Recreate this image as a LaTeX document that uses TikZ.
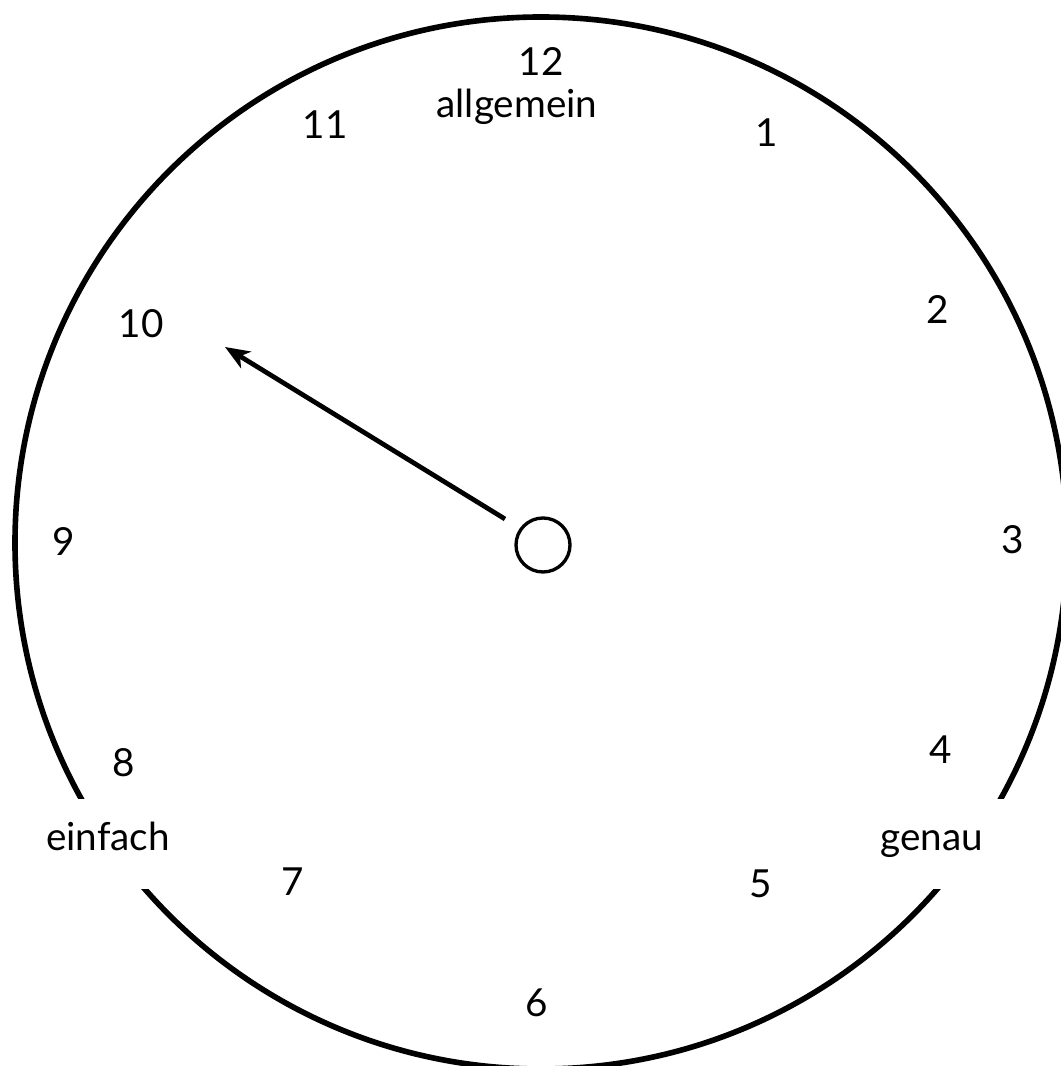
\documentclass[tikz,border=0pt]{standalone}
\usepackage{fontspec}
\setmainfont{Lato}
\usepackage{tikz}
\usetikzlibrary{arrows.meta, positioning, calc}

\begin{document}
\begin{tikzpicture}[
    num/.style={font=\fontsize{22}{26}\selectfont, inner sep=1pt},
    word/.style={font=\fontsize{22}{26}\selectfont, inner sep=1pt},
    gapword/.style={word, fill=white, minimum width=3.4cm, minimum height=1.8cm,
                    text height=0.95em, text depth=0.22em},
    hand/.style={-{Stealth[length=14pt, width=11pt, inset=4pt]}, line width=2.7pt},
  ]
    \useasboundingbox (0,0) rectangle (21.22,21.32);

    % Dial
    \node[circle, draw, line width=3.2pt, minimum size=21.04cm, inner sep=0pt] (dial) at (10.82,10.46) {};

    % Hours
    \node[num] (h12) at (10.82,20.08) {12};
    \node[num] (h1)  at (15.34,18.66) {1};
    \node[num] (h2)  at (18.76,15.12) {2};
    \node[num] (h3)  at (20.26,10.52) {3};
    \node[num] (h4)  at (18.82,6.32)  {4};
    \node[num] (h5)  at (15.22,3.64)  {5};
    \node[num] (h6)  at (10.74,1.26)  {6};
    \node[num] (h7)  at (5.86,3.68)   {7};
    \node[num] (h8)  at (2.48,6.06)   {8};
    \node[num] (h9)  at (1.28,10.50)  {9};
    \node[num] (h10) at (2.82,14.84)  {10};
    \node[num] (h11) at (6.50,18.82)  {11};

    % Words
    \node[word] (allg) at (10.34,19.18) {allgemein};
    \node[gapword] (einf) at (2.16,4.44) {einfach};
    \node[gapword] (gen) at (18.64,4.44) {genau};

    % Hub and hand
    \node[circle, draw, line width=1.9pt, minimum size=1.08cm, inner sep=0pt] (hub) at (10.86,10.42) {};
    \coordinate (tip) at (4.50,14.38);
    \draw[hand] (10.10,10.94) -- (tip);
\end{tikzpicture}
\end{document}
